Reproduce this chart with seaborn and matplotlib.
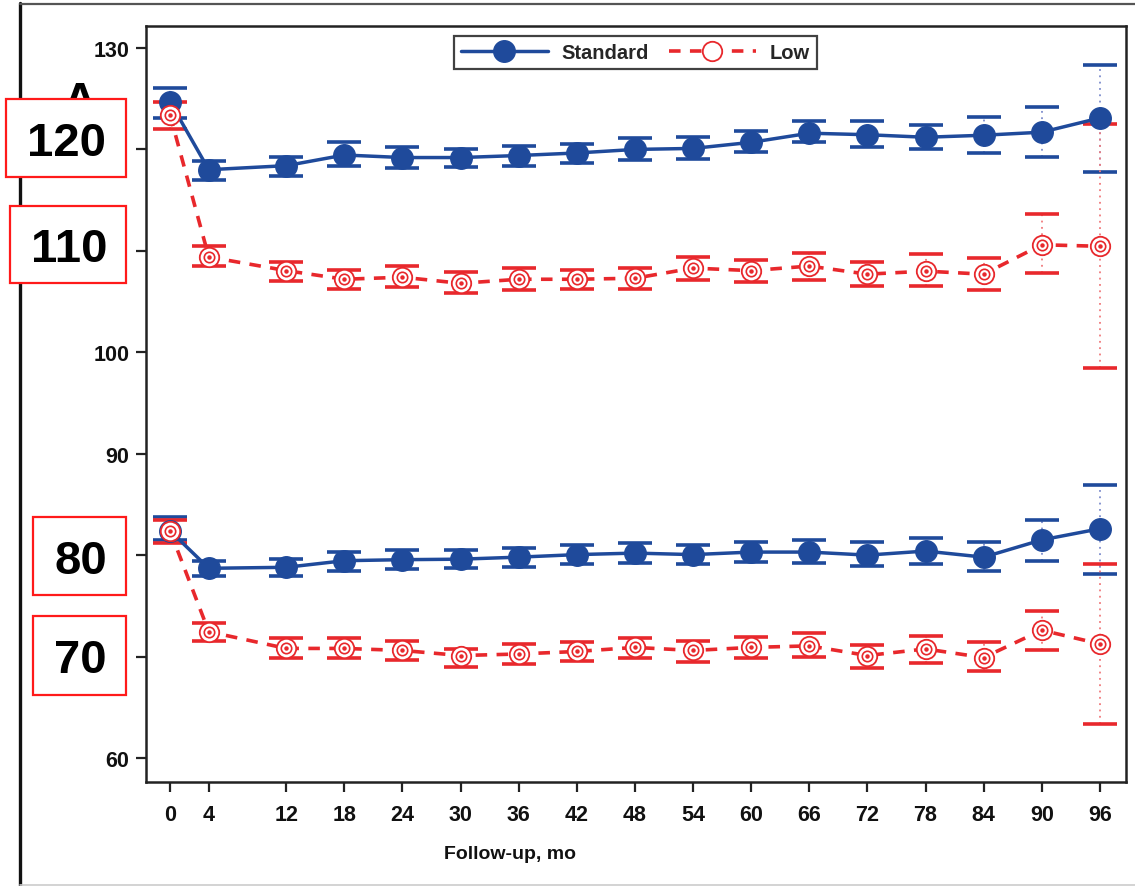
import matplotlib
matplotlib.use("Agg")
import matplotlib.pyplot as plt
from matplotlib.lines import Line2D
from matplotlib.patches import Rectangle
import seaborn as sns
import pandas as pd

# ---------------- data ----------------
months = [0, 4, 12, 18, 24, 30, 36, 42, 48, 54, 60, 66, 72, 78, 84, 90, 96]

std_sbp = [124.7, 118.0, 118.4, 119.45, 119.2, 119.2, 119.4, 119.65, 120.0, 120.1, 120.7, 121.6, 121.45, 121.2, 121.4, 121.7, 123.1]
std_sbp_lo = [123.1, 117.0, 117.4, 118.4, 118.2, 118.25, 118.4, 118.7, 119.0, 119.1, 119.7, 120.7, 120.2, 120.0, 119.6, 119.3, 117.8]
std_sbp_hi = [126.1, 118.9, 119.3, 120.7, 120.2, 120.0, 120.3, 120.5, 121.1, 121.2, 121.85, 122.8, 122.8, 122.4, 123.2, 124.2, 128.35]

low_sbp = [123.4, 109.4, 108.05, 107.2, 107.4, 106.8, 107.2, 107.2, 107.3, 108.3, 108.05, 108.5, 107.7, 108.0, 107.7, 110.6, 110.45]
low_sbp_lo = [122.0, 108.5, 107.0, 106.2, 106.4, 105.8, 106.1, 106.2, 106.2, 107.1, 106.9, 107.1, 106.5, 106.5, 106.1, 107.8, 98.45]
low_sbp_hi = [124.65, 110.5, 108.9, 108.1, 108.5, 107.9, 108.3, 108.1, 108.3, 109.4, 109.1, 109.8, 108.9, 109.7, 109.3, 113.6, 122.5]

std_dbp = [82.4, 78.7, 78.8, 79.45, 79.55, 79.6, 79.8, 80.05, 80.2, 80.05, 80.3, 80.3, 80.0, 80.4, 79.8, 81.5, 82.6]
std_dbp_lo = [81.5, 77.9, 77.9, 78.4, 78.6, 78.7, 78.8, 79.1, 79.2, 79.1, 79.3, 79.2, 78.9, 79.1, 78.4, 79.4, 78.1]
std_dbp_hi = [83.8, 79.45, 79.6, 80.3, 80.5, 80.5, 80.7, 81.0, 81.2, 80.95, 81.3, 81.5, 81.3, 81.7, 81.3, 83.5, 86.95]

low_dbp = [82.4, 72.45, 70.8, 70.8, 70.6, 70.1, 70.25, 70.5, 70.9, 70.6, 70.9, 71.05, 70.1, 70.75, 69.9, 72.6, 71.25]
low_dbp_lo = [81.2, 71.5, 69.9, 69.9, 69.7, 69.0, 69.3, 69.6, 69.9, 69.5, 69.85, 70.0, 68.9, 69.4, 68.55, 70.6, 63.35]
low_dbp_hi = [83.5, 73.3, 71.8, 71.8, 71.5, 70.75, 71.2, 71.4, 71.8, 71.5, 71.9, 72.3, 71.1, 72.0, 71.4, 74.5, 79.1]

y_ticks = [60, 70, 80, 90, 100, 110, 120, 130]
# tick labels hidden under the annotation boxes are left blank
y_tick_labels = ["60", "", "", "90", "100", "", "", "130"]
box_labels = ["120", "110", "80", "70"]
series_names = ["Standard", "Low"]
x_label = "Follow-up, mo"
panel_letter = "A"

# ---------------- style ----------------
BLUE = "#1f4a9b"
BLUE_LIGHT = "#7d8ccc"
RED = "#e8282c"
RED_LIGHT = "#f07a7c"
SANS = ["Liberation Sans", "DejaVu Sans"]
NARROW = ["Liberation Sans Narrow", "Liberation Sans", "DejaVu Sans"]

sns.set_theme(style="white")
plt.rcParams["font.family"] = SANS

W, H = 1135, 887
fig = plt.figure(figsize=(W / 100, H / 100), dpi=100)
fig.patch.set_facecolor("white")


def fx(px):
    return px / W


def fy(py):
    return 1 - py / H


ax = fig.add_axes([fx(146), fy(783), 980 / W, 756 / H])
ax.set_facecolor("white")

df = pd.DataFrame({"month": months})


def draw_series(y, lo, hi, color, light, filled):
    yerr = [[v - l for v, l in zip(y, lo)], [h - v for v, h in zip(y, hi)]]
    eb = ax.errorbar(months, y, yerr=yerr, fmt="none", ecolor=color,
                     elinewidth=1.3, capsize=12.5, capthick=2.6, zorder=2)
    for lc in eb[2]:
        lc.set_linestyle((0, (1, 2.5)))
        lc.set_color(light)
    d = df.assign(val=y)
    if filled:
        sns.lineplot(data=d, x="month", y="val", ax=ax, color=color, lw=2.5,
                     marker="o", markersize=15.5, markerfacecolor=color,
                     markeredgecolor=color, markeredgewidth=1,
                     errorbar=None, sort=False, zorder=3)
    else:
        sns.lineplot(data=d, x="month", y="val", ax=ax, color=color, lw=2.6,
                     linestyle=(0, (3.2, 2.6)),
                     marker="o", markersize=14, markerfacecolor="white",
                     markeredgecolor=color, markeredgewidth=1.3,
                     errorbar=None, sort=False, zorder=4)
        ax.plot(months, y, linestyle="none", marker="o", markersize=7.5,
                markerfacecolor="none", markeredgecolor=color,
                markeredgewidth=1.2, zorder=5)
        ax.plot(months, y, linestyle="none", marker="o", markersize=2.2,
                markerfacecolor=color, markeredgecolor=color, zorder=5)


draw_series(std_sbp, std_sbp_lo, std_sbp_hi, BLUE, BLUE_LIGHT, True)
draw_series(std_dbp, std_dbp_lo, std_dbp_hi, BLUE, BLUE_LIGHT, True)
draw_series(low_sbp, low_sbp_lo, low_sbp_hi, RED, RED_LIGHT, False)
draw_series(low_dbp, low_dbp_lo, low_dbp_hi, RED, RED_LIGHT, False)

# axes
ax.set_xlim(-2.48, 98.7)
ax.set_ylim(57.63, 132.17)
ax.set_xticks(months)
ax.set_xticklabels([str(m) for m in months])
ax.set_yticks(y_ticks)
ax.set_yticklabels(y_tick_labels)
for lab in ax.get_xticklabels():
    lab.set_family(NARROW)
    lab.set_fontweight("bold")
    lab.set_fontsize(15.5)
    lab.set_color("#111111")
for lab in ax.get_yticklabels():
    lab.set_family(SANS)
    lab.set_fontweight("bold")
    lab.set_fontsize(15.5)
    lab.set_color("#111111")
ax.tick_params(axis="both", direction="out", length=7, width=1.6,
               color="#222222", left=True, bottom=True)
ax.tick_params(axis="y", pad=5)
ax.tick_params(axis="x", pad=9)
for s in ax.spines.values():
    s.set_visible(True)
    s.set_color("#222222")
    s.set_linewidth(1.8)
ax.grid(False)
ax.set_xlabel(x_label, fontsize=14, fontweight="bold", family=NARROW,
              color="#111111")
ax.set_ylabel("")
ax.xaxis.set_label_coords((510 - 146) / 980, (783 - 846) / 756)

# legend
h_std = Line2D([], [], color=BLUE, lw=2.5, marker="o", markersize=15.5,
               markerfacecolor=BLUE, markeredgecolor=BLUE)
h_low = Line2D([], [], color=RED, lw=2.6, linestyle=(0, (3.2, 2.6)),
               marker="o", markersize=14, markerfacecolor="white",
               markeredgecolor=RED, markeredgewidth=1.3)
leg = ax.legend([h_std, h_low], series_names, loc="upper center",
                bbox_to_anchor=((635.5 - 146) / 980, (783 - 37) / 756),
                borderaxespad=0.0,
                ncol=2, frameon=True, fancybox=False, handlelength=4.3,
                columnspacing=1.0, handletextpad=0.7, borderpad=0.35,
                prop={"family": SANS, "weight": "bold", "size": 14.5})
leg.get_frame().set_edgecolor("#111111")
leg.get_frame().set_linewidth(1.6)

# outer frame
fig.add_artist(Line2D([fx(20), fx(20)], [fy(4), fy(887)], color="#111111",
                      lw=2.4, transform=fig.transFigure))
fig.add_artist(Line2D([fx(20), fx(1135)], [fy(5), fy(5)], color="#555555",
                      lw=1.6, transform=fig.transFigure))
fig.add_artist(Line2D([fx(20), fx(1135)], [fy(886), fy(886)], color="#cccccc",
                      lw=1.2, transform=fig.transFigure))

# panel letter (partly hidden behind the first box)
fig.text(fx(80), fy(115), panel_letter, fontsize=34, fontweight="bold",
         ha="center", va="baseline", family=SANS, color="black", zorder=5)

# annotation boxes
boxes = [(6, 100, 126, 178), (10, 207, 126, 284), (33, 518, 126, 596), (33, 617, 126, 696)]
for (x0, y0, x1, y1), txt in zip(boxes, box_labels):
    fig.add_artist(Rectangle((fx(x0), fy(y1)), fx(x1) - fx(x0), fy(y0) - fy(y1),
                             transform=fig.transFigure, facecolor="white",
                             edgecolor="#ff1a1a", lw=1.6, zorder=10))
    fig.text(fx((x0 + x1) / 2 + 1), fy((y0 + y1) / 2), txt, fontsize=34,
             fontweight="bold", ha="center", va="center_baseline",
             family=SANS, color="black", zorder=11)

fig.savefig("out.png", dpi=100, facecolor="white")
